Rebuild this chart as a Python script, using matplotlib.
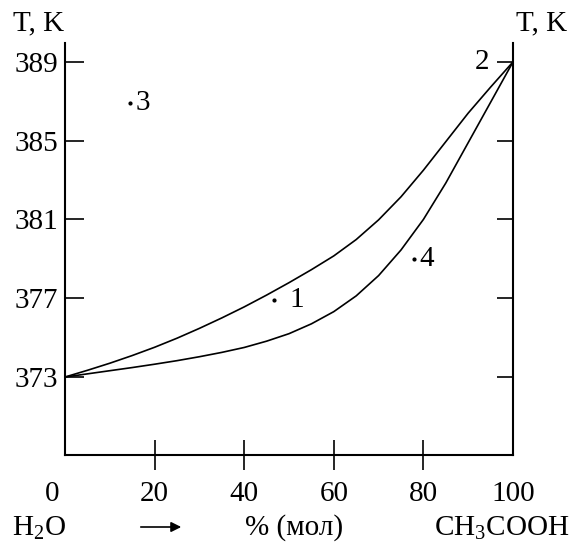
import matplotlib
matplotlib.use("Agg")
import matplotlib.pyplot as plt
import matplotlib.transforms as mtransforms

# mole fraction of acetic acid, %
x_mol = [0, 5, 10, 15, 20, 25, 30, 35, 40, 45, 50, 55, 60, 65, 70, 75, 80, 85, 90, 95, 100]
# vapour (upper) and liquid (lower) curves, K
t_vapour = [373.0, 373.34, 373.70, 374.09, 374.51, 374.97, 375.47, 376.0, 376.56, 377.16, 377.79,
            378.45, 379.15, 379.98, 380.98, 382.15, 383.5, 384.95, 386.4, 387.72, 389.0]
t_liquid = [373.0, 373.16, 373.32, 373.48, 373.65, 373.83, 374.03, 374.25, 374.5, 374.82, 375.2,
            375.7, 376.32, 377.12, 378.15, 379.45, 381.0, 382.85, 384.9, 386.95, 389.0]

# labelled points
pt_labels = ["3", "1", "4"]
pt_x = [14.5, 46.7, 77.9]
pt_y = [386.9, 376.9, 379.0]
pt_offsets = [9, 16, 9]  # label offset to the right, points

y_ticks = [373, 377, 381, 385, 389]
x_ticks = [0, 20, 40, 60, 80, 100]

plt.rcParams['font.family'] = ['Liberation Serif', 'DejaVu Serif']
plt.rcParams['mathtext.fontset'] = 'custom'
plt.rcParams['mathtext.rm'] = 'Liberation Serif'
plt.rcParams['mathtext.it'] = 'Liberation Serif:italic'
fs = 21

W, H = 574, 548
fig = plt.figure(figsize=(W / 100, H / 100), dpi=100)
ax = fig.add_axes([65 / W, 1 - 455 / H, 448 / W, 412 / H])

ax.plot(x_mol, t_vapour, color='black', lw=1.2)
ax.plot(x_mol, t_liquid, color='black', lw=1.2)

ax.scatter(pt_x, pt_y, s=4, color='black', zorder=3)
for lab, px, py, off in zip(pt_labels, pt_x, pt_y, pt_offsets):
    ax.annotate(lab, (px, py), xytext=(off, 0), textcoords='offset points',
                ha='center', va='center', fontsize=fs)
ax.annotate("2", (x_mol[-1], t_vapour[-1]), xytext=(-22, 0), textcoords='offset points',
            ha='center', va='center', fontsize=fs)

ax.set_xlim(0, 100)
ax.set_ylim(369.04, 389.96)

for s in ['left', 'right', 'bottom']:
    ax.spines[s].set_linewidth(1.5)
ax.spines['top'].set_visible(False)

ax.set_yticks(y_ticks)
ax.set_yticklabels([str(v) for v in y_ticks])
ax.tick_params(axis='y', which='major', direction='in', length=14, width=1.2,
               pad=5, labelsize=fs, right=True, labelright=False)
for t in ax.yaxis.get_major_ticks():
    t.tick2line.set_markersize(11.5)

ax.set_xticks(x_ticks)
ax.set_xticklabels([str(v) for v in x_ticks])
ax.tick_params(axis='x', which='major', direction='inout', length=21.6, width=1.2,
               pad=8, labelsize=fs)
xt = ax.xaxis.get_major_ticks()
xt[0].tick1line.set_visible(False)
xt[-1].tick1line.set_visible(False)
xt[0].label1.set_transform(xt[0].label1.get_transform() +
                           mtransforms.ScaledTranslation(-13 / 100, 0, fig.dpi_scale_trans))

# axis titles
fig.text(39 / W, 1 - 23 / H, "T, K", ha='center', va='center', fontsize=fs)
fig.text(542 / W, 1 - 23 / H, "T, K", ha='center', va='center', fontsize=fs)

# composition row
fig.text(12 / W, 1 - 528 / H, "H$_2$O", ha='left', va='center', fontsize=fs)
fig.text(245 / W, 1 - 528 / H, "% (мол)", ha='left', va='center', fontsize=fs)
fig.text(569 / W, 1 - 528 / H, "CH$_3$COOH", ha='right', va='center', fontsize=fs)
fig.add_artist(matplotlib.patches.FancyArrowPatch(
    (138 / W, 1 - 527 / H), (184 / W, 1 - 527 / H), transform=fig.transFigure,
    arrowstyle='-|>,head_length=6,head_width=3', color='black', lw=1.2))

fig.savefig("out.png", dpi=100)
